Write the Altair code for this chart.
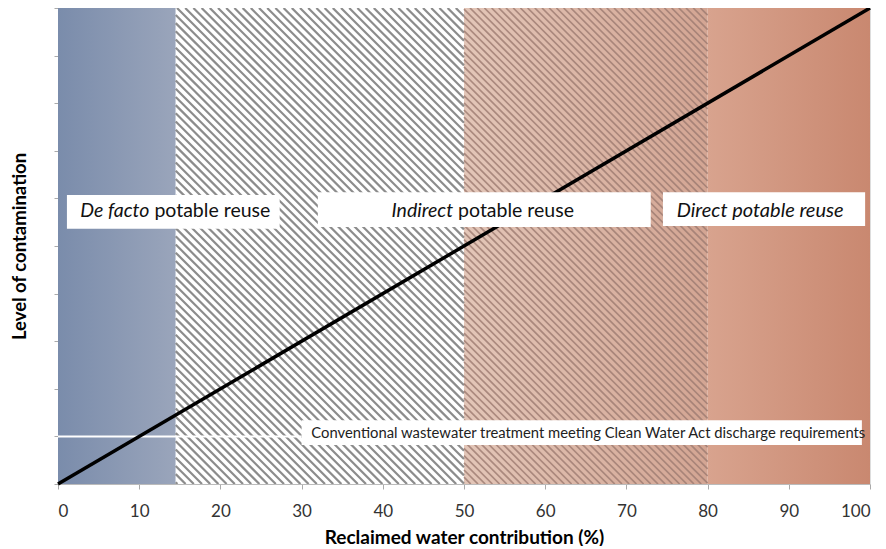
import math
import altair as alt
import pandas as pd
import numpy as np

# ---- data ----
zone_names = ["De facto", "Indirect", "Red hatched", "Direct"]
zone_start = [0, 14.5, 50, 80]
zone_end = [14.5, 50, 80, 100]

line_x = [0, 100]
line_y = [0, 100]

cwa_level = 10
x_ticks = [0, 10, 20, 30, 40, 50, 60, 70, 80, 90, 100]
y_ticks = [0, 10, 20, 30, 40, 50, 60, 70, 80, 90, 100]

# label boxes (x0, x1, y0, y1) in data units
box_x0 = [1.1, 32.0, 74.5, 30.0]
box_x1 = [27.3, 73.0, 99.4, 99.0]
box_y0 = [53.6, 54.0, 54.2, 8.2]
box_y1 = [60.7, 61.3, 61.3, 13.4]

label_y = 57.4
italic_parts = ["De facto", "Indirect"]
normal_parts = ["potable reuse", "potable reuse"]
join_x = [11.5, 48.9]
direct_label = "Direct potable reuse"
direct_x = 76.2
cwa_label = "Conventional wastewater treatment meeting Clean Water Act discharge requirements"
cwa_x = 31.2

W, H = 812, 476
FONT = "Lato"

xs = alt.Scale(domain=[0, 100], nice=False, zero=False)
ys = alt.Scale(domain=[0, 100], nice=False, zero=False)


def hatch(x0, x1, spacing_px, angle_deg):
    t = math.tan(math.radians(angle_deg))
    ua, ub = x0 * W / 100, x1 * W / 100
    step = spacing_px * t
    rows = []
    c = -t * ub
    while c < H - t * ua:
        u0 = max(ua, -c / t)
        u1 = min(ub, (H - c) / t)
        if u1 > u0:
            v0 = t * u0 + c
            v1 = t * u1 + c
            rows.append({"x": u0 * 100 / W, "y": 100 - v0 * 100 / H,
                         "x2": u1 * 100 / W, "y2": 100 - v1 * 100 / H})
        c += step
    return pd.DataFrame(rows)


def zone_rect(i, fill):
    df = pd.DataFrame({"x": [zone_start[i]], "x2": [zone_end[i]], "y": [0], "y2": [100]})
    return alt.Chart(df).mark_rect(fill=fill, strokeWidth=0).encode(
        x=alt.X("x:Q", scale=xs, axis=alt.Axis(values=x_ticks, title="Reclaimed water contribution (%)",
                                                 grid=False, tickSize=5, tickColor="#aaaaaa",
                                                 domainColor="#bbbbbb", labelFontSize=17,
                                                 labelColor="#333333", labelPadding=14,
                                                 titleFontSize=19, titleFontWeight="bold",
                                                 titlePadding=9, labelFont=FONT, titleFont=FONT,
                                                 titleColor="#000000")),
        x2="x2:Q",
        y=alt.Y("y:Q", scale=ys, axis=alt.Axis(values=y_ticks, labels=False, title="Level of contamination",
                                                 grid=False, tickSize=4, tickColor="#aaaaaa",
                                                 domainColor="#dddddd", titleFontSize=18.5,
                                                 titleFontWeight="bold", titlePadding=24,
                                                 titleFont=FONT, titleColor="#000000")),
        y2="y2:Q",
    )


def grad(c0, c1):
    return alt.LinearGradient(gradient="linear", x1=0, x2=1, y1=0, y2=0,
                              stops=[alt.GradientStop(color=c0, offset=0),
                                     alt.GradientStop(color=c1, offset=1)])


blue = zone_rect(0, grad("#7a8cab", "#9aa5bb"))
white_zone = zone_rect(1, "#ffffff")
red_h = zone_rect(2, grad("#e3c6b8", "#d3a593"))
red = zone_rect(3, grad("#d8a38e", "#c98870"))

h1 = alt.Chart(hatch(zone_start[1], zone_end[1], 8.2, 45)).mark_rule(
    color="#8c8c8c", strokeWidth=2.2, clip=True).encode(
    x=alt.X("x:Q", scale=xs), y=alt.Y("y:Q", scale=ys), x2="x2:Q", y2="y2:Q")
h2 = alt.Chart(hatch(zone_start[2], zone_end[2], 7.2, 45)).mark_rule(
    color="#9c7b70", strokeWidth=1.7, opacity=0.8, clip=True).encode(
    x=alt.X("x:Q", scale=xs), y=alt.Y("y:Q", scale=ys), x2="x2:Q", y2="y2:Q")

cwa_line = alt.Chart(pd.DataFrame({"y": [cwa_level], "x": [0], "x2": [box_x0[3]]})).mark_rule(
    color="#ffffff", strokeWidth=2).encode(
    y=alt.Y("y:Q", scale=ys), x=alt.X("x:Q", scale=xs), x2="x2:Q")

diag = alt.Chart(pd.DataFrame({"x": line_x, "y": line_y})).mark_line(
    color="#000000", strokeWidth=3.5).encode(x=alt.X("x:Q", scale=xs), y=alt.Y("y:Q", scale=ys))

boxes = alt.Chart(pd.DataFrame({"x": box_x0, "x2": box_x1, "y": box_y0, "y2": box_y1})).mark_rect(
    fill="#ffffff").encode(x=alt.X("x:Q", scale=xs), x2="x2:Q", y=alt.Y("y:Q", scale=ys), y2="y2:Q")

lab_df = pd.DataFrame({"x": join_x, "it": italic_parts, "nm": normal_parts, "y": [label_y] * 2})
it_text = alt.Chart(lab_df).mark_text(align="right", baseline="middle", fontSize=19.5, fontStyle="italic",
                                      font=FONT, color="#111111", dx=-2).encode(
    x=alt.X("x:Q", scale=xs), y=alt.Y("y:Q", scale=ys), text="it:N")
nm_text = alt.Chart(lab_df).mark_text(align="left", baseline="middle", fontSize=19.5,
                                      font=FONT, color="#111111", dx=3).encode(
    x=alt.X("x:Q", scale=xs), y=alt.Y("y:Q", scale=ys), text="nm:N")
direct_text = alt.Chart(pd.DataFrame({"x": [direct_x], "y": [label_y], "t": [direct_label]})).mark_text(
    align="left", baseline="middle", fontSize=20, fontStyle="italic", font=FONT, color="#111111").encode(
    x=alt.X("x:Q", scale=xs), y=alt.Y("y:Q", scale=ys), text="t:N")
cwa_text = alt.Chart(pd.DataFrame({"x": [cwa_x], "y": [cwa_level + 0.6], "t": [cwa_label]})).mark_text(
    align="left", baseline="middle", fontSize=14.8, font=FONT, color="#222222").encode(
    x=alt.X("x:Q", scale=xs), y=alt.Y("y:Q", scale=ys), text="t:N")

chart = alt.layer(blue, white_zone, red_h, red, h1, h2, cwa_line, diag, boxes,
                  it_text, nm_text, direct_text, cwa_text).properties(
    width=W, height=H, autosize=alt.AutoSizeParams(type="none"),
    padding={"left": 50, "top": 0, "right": 8, "bottom": 62},
).configure_view(stroke=None).configure(background="#ffffff")

chart.save("out.html", embed_options={"renderer": "svg", "actions": False})
